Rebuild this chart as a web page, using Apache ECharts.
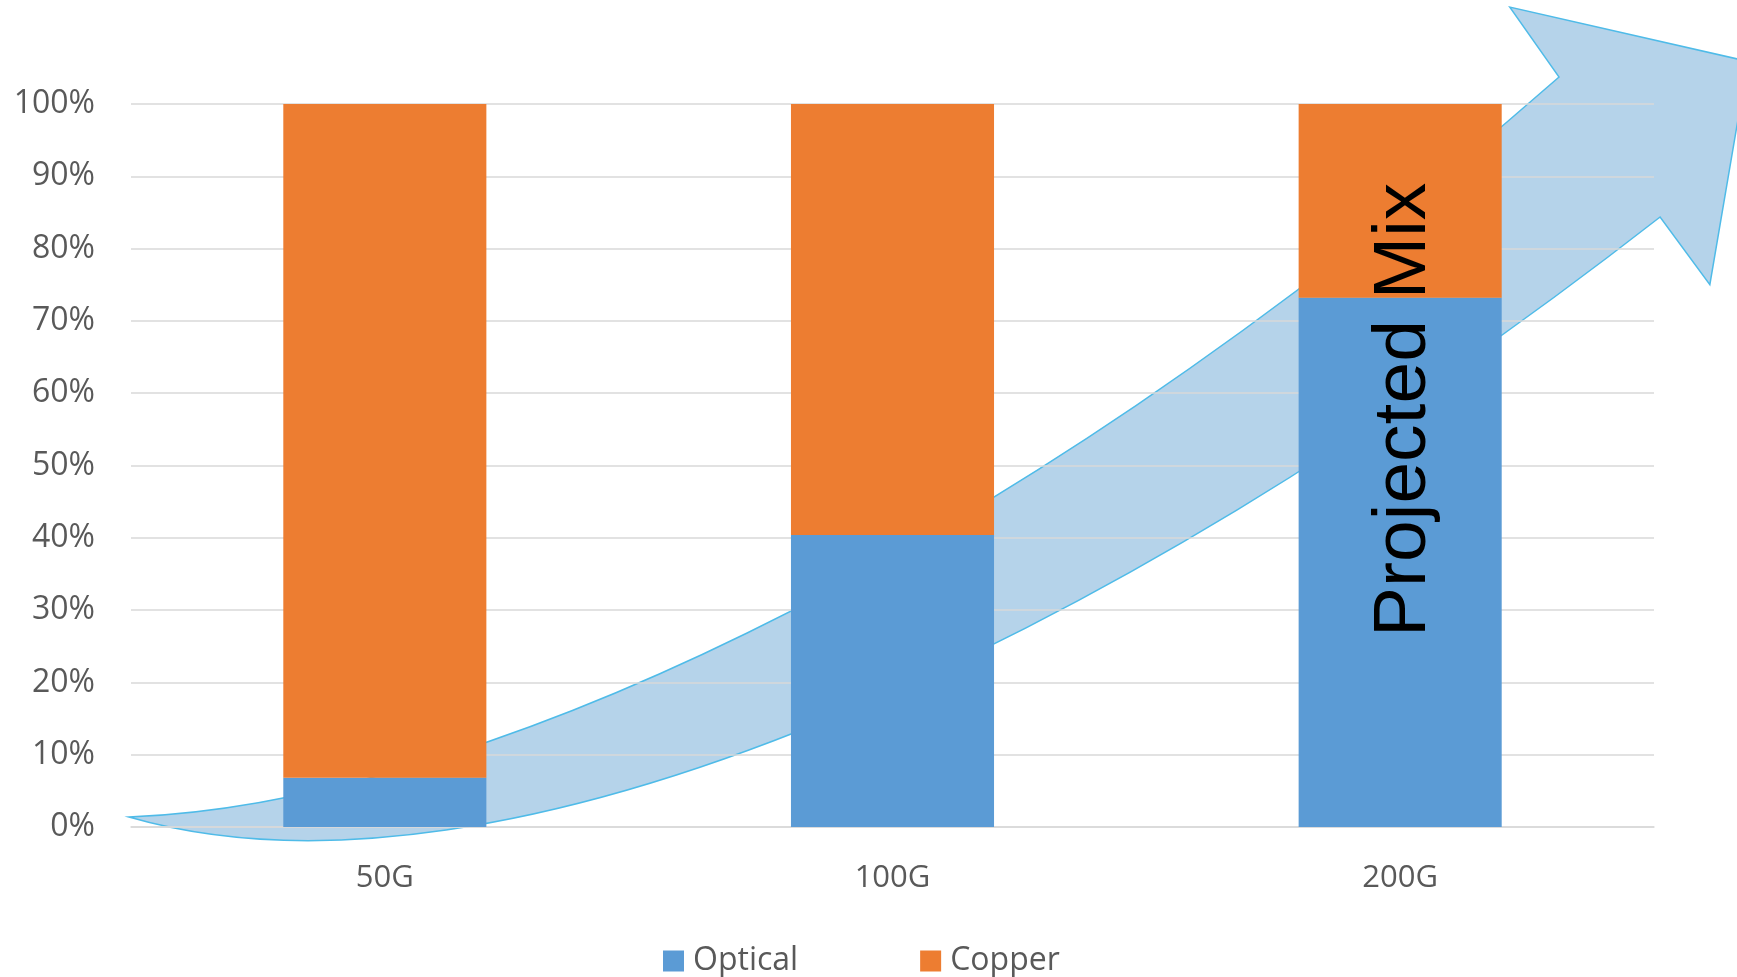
<!DOCTYPE html>
<html>
<head>
<meta charset="utf-8">
<script src="https://cdn.jsdelivr.net/npm/echarts@6/dist/echarts.min.js"></script>
<style>html,body{margin:0;padding:0;background:#fff;}#c{width:1737px;height:977px;}</style>
</head>
<body>
<div id="c"></div>
<script>
// ---- data ----
var categories = ['50G', '100G', '200G'];
var opticalValues = [6.8, 40.4, 73.2];
var copperValues = [93.2, 59.6, 26.8];
var yTicks = [0, 10, 20, 30, 40, 50, 60, 70, 80, 90, 100];
var annotationText = 'Projected Mix';
var annotationAt = ['200G', 57.7];
// arrow outline in data units (x: category index space 0..3, y: percent)
var arrowTail = [-0.004, 1.38];
var arrowLowerCtrl = [[0.727, -13.5], [1.909, 24.0]];
var arrowHead = [[3.012, 84.37], [3.110, 75.0], [3.185, 105.9], [2.716, 113.4], [2.813, 103.73]];
var arrowUpperCtrl = [[1.672, 33.47], [0.628, 3.04]];

var FONT = '"Open Sans", "Liberation Sans", sans-serif';

var chart = echarts.init(document.getElementById('c'), null, {renderer: 'canvas'});
var option = {
  animation: false,
  backgroundColor: '#ffffff',
  grid: {left: 131, right: 83, top: 104, bottom: 150, containLabel: false},
  legend: {
    data: ['Optical', 'Copper'],
    left: 658, top: 940,
    icon: 'rect', itemWidth: 21, itemHeight: 21, itemGap: 122,
    textStyle: {fontFamily: FONT, fontSize: 32, color: '#595959', padding: [0, 0, 0, 4]}
  },
  xAxis: [{
    type: 'category', data: categories,
    axisLine: {show: true, lineStyle: {color: '#d9d9d9', width: 1.5}},
    axisTick: {show: false},
    axisLabel: {fontFamily: FONT, fontSize: 31, color: '#595959', margin: 36},
    z: 2
  }, {
    type: 'value', min: 0, max: 3, show: false
  }],
  yAxis: {
    type: 'value', min: yTicks[0], max: yTicks[yTicks.length - 1], interval: yTicks[1] - yTicks[0],
    axisLine: {show: false}, axisTick: {show: false},
    axisLabel: {formatter: '{value}%', fontFamily: FONT, fontSize: 32, color: '#595959', margin: 36},
    splitLine: {lineStyle: {color: '#d9d9d9', width: 1.5}},
    z: 2
  },
  series: [{
    type: 'custom',
    name: 'arrow',
    xAxisIndex: 1, yAxisIndex: 0,
    z: 1, clip: false, silent: true,
    data: [[0, 0]],
    renderItem: function (params, api) {
      function c(p) { var q = api.coord(p); return q[0] + ' ' + q[1]; }
      var d = 'M' + c(arrowTail);
      d += ' C' + c(arrowLowerCtrl[0]) + ' ' + c(arrowLowerCtrl[1]) + ' ' + c(arrowHead[0]);
      for (var i = 1; i < arrowHead.length; i++) d += ' L' + c(arrowHead[i]);
      d += ' C' + c(arrowUpperCtrl[0]) + ' ' + c(arrowUpperCtrl[1]) + ' ' + c(arrowTail) + ' Z';
      return {
        type: 'path',
        shape: {pathData: d},
        style: {fill: '#b5d3ea', stroke: '#4fbbe8', lineWidth: 1.5}
      };
    }
  }, {
    name: 'Optical', type: 'bar', stack: 'mix', data: opticalValues,
    barWidth: '40%', itemStyle: {color: '#5b9bd5'}, z: 3
  }, {
    name: 'Copper', type: 'bar', stack: 'mix', data: copperValues,
    barWidth: '40%', itemStyle: {color: '#ed7d31'}, z: 3
  }]
};
chart.setOption(option);
var pos = chart.convertToPixel({xAxisIndex: 0, yAxisIndex: 0}, annotationAt);
chart.setOption({
  graphic: [{
    type: 'text', z: 10,
    x: pos[0] + 4, y: pos[1], rotation: Math.PI / 2,
    style: {
      text: annotationText, fill: '#000000',
      font: '75px "Liberation Sans", Arial, sans-serif',
      align: 'center', verticalAlign: 'middle'
    }
  }]
});
</script>
</body>
</html>
